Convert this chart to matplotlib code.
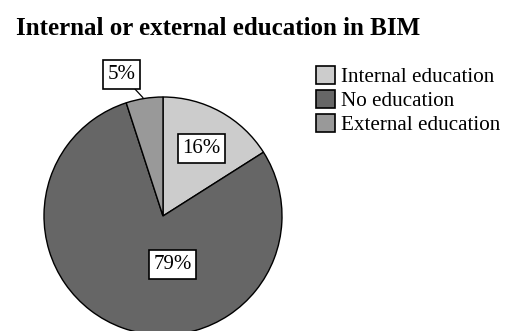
import matplotlib
matplotlib.use("Agg")
import matplotlib.pyplot as plt
from matplotlib.patches import Patch

# share of respondents per kind of BIM education
labels = ["Internal education", "No education", "External education"]
shares = [16, 79, 5]
colors = ["#cccccc", "#666666", "#999999"]

plt.rcParams["font.family"] = ["Liberation Serif", "DejaVu Serif"]

W, H = 515, 331
fig = plt.figure(figsize=(W / 100, H / 100), dpi=100)
fig.text(16 / W, 1 - 35 / H, "Internal or external education in BIM",
         fontsize=18, fontweight="bold", va="baseline", ha="left")

# pie axes: centre at (163, 216) px, radius 119 px
cx, cy, r = 163, 216, 119
ax = fig.add_axes([(cx - r) / W, (H - cy - r) / H, 2 * r / W, 2 * r / H])
wedges, _ = ax.pie(shares, colors=colors, startangle=90, counterclock=False,
                   wedgeprops=dict(edgecolor="black", linewidth=1))
ax.set_xlim(-1, 1)
ax.set_ylim(-1, 1)
ax.axis("off")

box = dict(boxstyle="square,pad=0.22", fc="white", ec="black", lw=1.2)
ax.text(0.324, 0.567, f"{shares[0]}%", ha="center", va="center", fontsize=15, bbox=box)
ax.text(0.080, -0.408, f"{shares[1]}%", ha="center", va="center", fontsize=15, bbox=box)
ax.annotate(f"{shares[2]}%", xy=(-0.168, 0.994), xytext=(-0.349, 1.189),
            ha="center", va="center", fontsize=15, bbox=box,
            arrowprops=dict(arrowstyle="-", color="black", lw=0.9,
                            shrinkA=0, shrinkB=0),
            annotation_clip=False)

handles = [Patch(facecolor=c, edgecolor="black", lw=1.2) for c in colors]
fig.legend(handles, labels, loc="upper left", bbox_to_anchor=(316 / W, 1 - 66 / H),
           frameon=False, fontsize=15.2, handlelength=0.9, handleheight=0.9,
           handletextpad=0.3, labelspacing=0.15, borderaxespad=0, borderpad=0)

fig.savefig("out.png", dpi=100)
